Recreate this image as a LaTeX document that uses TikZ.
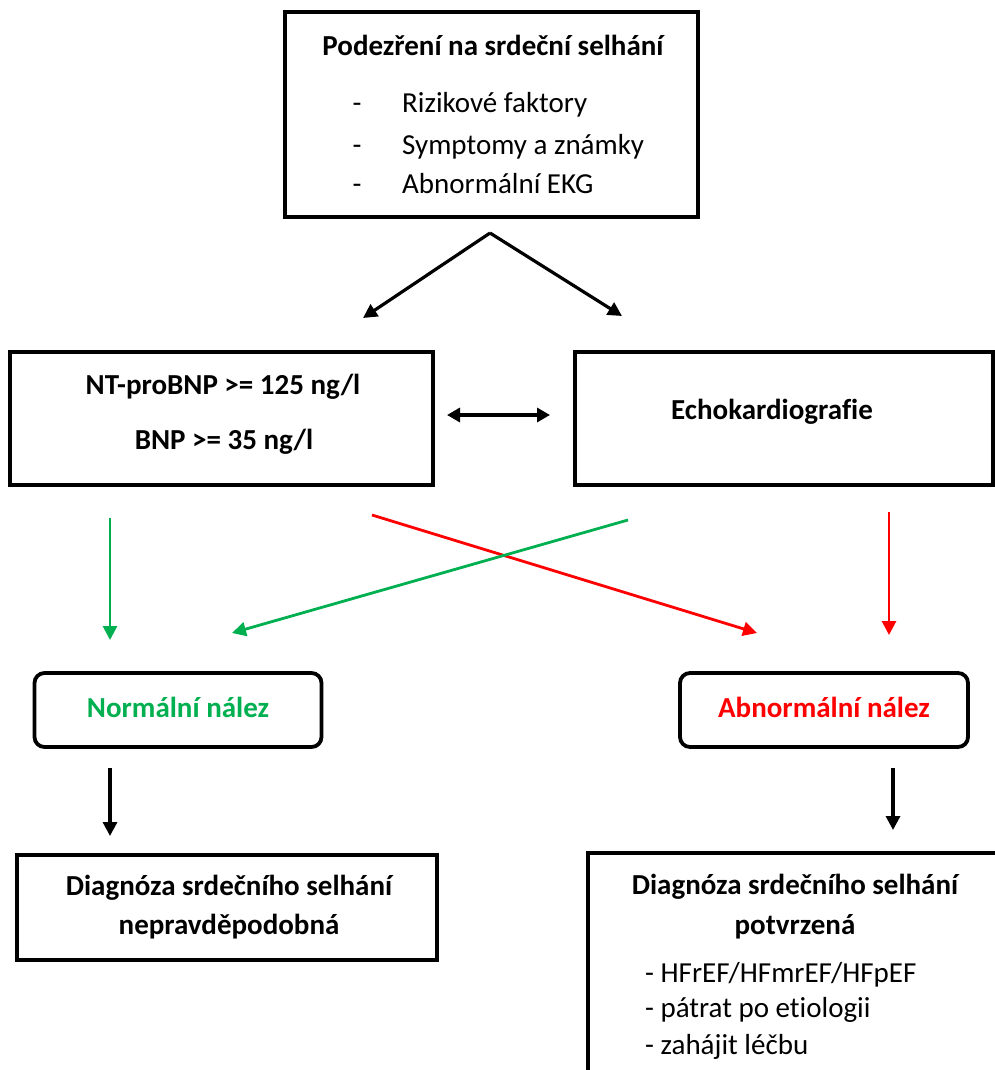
\documentclass[tikz,border=0pt]{standalone}
\usepackage{fontspec}
\setmainfont{Carlito}[Ligatures=NoCommon]
\usetikzlibrary{arrows.meta}
\definecolor{okgreen}{RGB}{0,176,80}
\definecolor{badred}{RGB}{255,0,0}
\tikzset{
  box/.style={draw=black,line width=3.8pt,inner sep=0pt},
  rbox/.style={draw=black,line width=3.8pt,rounded corners=10pt,inner sep=0pt},
  txt/.style={inner sep=0pt,text height=22pt,text depth=4pt,font=\fontsize{29}{34}\selectfont},
  btxt/.style={txt,font=\fontsize{29}{34}\selectfont\bfseries},
  arr/.style={line width=3.2pt,-{Triangle[length=14pt,width=14pt]}},
  garr/.style={arr,line width=2.8pt,okgreen},
  rarr/.style={arr,line width=2.8pt,badred},
  darr/.style={line width=3.2pt,{Triangle[length=13pt,width=14pt]}-{Triangle[length=13pt,width=14pt]}},
}
\begin{document}
\begin{tikzpicture}[x=1pt,y=-1pt]
\useasboundingbox (0,0) rectangle (995,1070);
\clip (0,0) rectangle (995,1070);
\fill[white] (0,0) rectangle (995,1070);
% boxes
\node[box,minimum width=413pt,minimum height=205pt] (top) at (491.5,114.5) {};
\node[btxt] (toptitle) at (493,47) {Podezření na srdeční selhání};
\node[txt] (d1) at (357,104) {-};
\node[txt] (d2) at (357,145) {-};
\node[txt] (d3) at (357,184) {-};
\node[txt,anchor=west] (b1) at (402,104) {Rizikové faktory};
\node[txt,anchor=west] (b2) at (402,145) {Symptomy a známky};
\node[txt,anchor=west] (b3) at (402,184) {Abnormální EKG};

\node[box,minimum width=423pt,minimum height=133pt] (bnp) at (221.5,418.5) {};
\node[btxt] (bnp1) at (223,385) {NT-proBNP >= 125 ng/l};
\node[btxt] (bnp2) at (224,440) {BNP >= 35 ng/l};

\node[box,minimum width=418pt,minimum height=133pt] (echo) at (784,418.5) {};
\node[btxt] (echot) at (772,410) {Echokardiografie};

\node[rbox,minimum width=287pt,minimum height=74pt] (norm) at (178,710) {};
\node[btxt,text=okgreen] (normt) at (178,708) {Normální nález};
\node[rbox,minimum width=288pt,minimum height=74pt] (abn) at (824,710) {};
\node[btxt,text=badred] (abnt) at (824,708) {Abnormální nález};

\node[box,minimum width=420pt,minimum height=105pt] (unl) at (227,907.5) {};
\node[btxt] (unl1) at (229,886) {Diagnóza srdečního selhání};
\node[btxt] (unl2) at (229,925) {nepravděpodobná};

\node[box,minimum width=420pt,minimum height=240pt] (conf) at (798,973) {};
\node[btxt] (conf1) at (795,885) {Diagnóza srdečního selhání};
\node[btxt] (conf2) at (795,925) {potvrzená};
\node[txt,anchor=west] (c1) at (645,973) {- HFrEF/HFmrEF/HFpEF};
\node[txt,anchor=west] (c2) at (645,1008) {- pátrat po etiologii};
\node[txt,anchor=west] (c3) at (645,1045) {- zahájit léčbu};

% connector coordinates
\coordinate (s0) at (490,233);
\coordinate (e1) at (363,318);
\coordinate (e2) at (622,316);
\coordinate (dl) at (447,415);
\coordinate (dr) at (550,415);
\coordinate (g1s) at (110,518);
\coordinate (g1e) at (110,640);
\coordinate (r1s) at (372,515);
\coordinate (r1e) at (757,633);
\coordinate (g2s) at (628,520);
\coordinate (g2e) at (232,633);
\coordinate (r2s) at (889,512);
\coordinate (r2e) at (889,635);
\coordinate (k1s) at (110,768);
\coordinate (k1e) at (110,836);
\coordinate (k2s) at (893,768);
\coordinate (k2e) at (893,830);

\draw[arr] (s0) -- (e1);
\draw[arr] (s0) -- (e2);
\draw[darr] (dl) -- (dr);
\draw[garr] (g1s) -- (g1e);
\draw[rarr] (r1s) -- (r1e);
\draw[garr] (g2s) -- (g2e);
\draw[rarr] (r2s) -- (r2e);
\draw[arr] (k1s) -- (k1e);
\draw[arr] (k2s) -- (k2e);
\end{tikzpicture}
\end{document}
